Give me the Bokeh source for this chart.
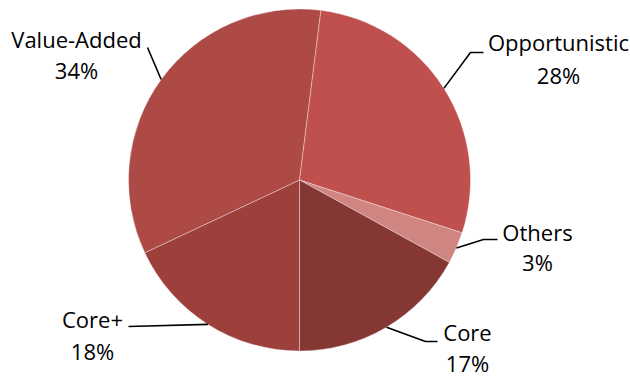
from math import radians, sin, cos

from bokeh.core.properties import value
from bokeh.embed import file_html
from bokeh.models import ColumnDataSource, Range1d
from bokeh.plotting import figure
from bokeh.resources import INLINE

# Share of capital by strategy, drawn clockwise starting at 6 o'clock
strategies = ["Core+", "Value-Added", "Opportunistic", "Others", "Core"]
shares = [18, 34, 28, 3, 17]
colors = ["#9D403C", "#AE4A46", "#C0504D", "#D08582", "#853734"]

W, H = 630, 377
CX, CY, R = 299, 197.5, 171          # pie centre / radius (data units, y up)
START = 180.0                         # first slice begins at the bottom

# label layout: (text centre x, name y, percent y)
label_layout = {
    "Core+":         (92, 59, 27),
    "Value-Added":   (76, 339, 308),
    "Opportunistic": (558, 336, 303),
    "Others":        (537, 146, 116),
    "Core":          (467, 46, 15),
}
# leader: optional elbow point, then the point next to the label
leader_elbow = {
    "Core+": None,
    "Value-Added": None,
    "Opportunistic": (470, 325),
    "Others": (483, 138),
    "Core": (425, 36),
}
leader_end = {
    "Core+": (128, 51),
    "Value-Added": (147, 330),
    "Opportunistic": (483, 325),
    "Others": (497, 138),
    "Core": (437, 36),
}

total = float(sum(shares))
starts, ends, mids = [], [], []
acc = START
for s in shares:
    span = 360.0 * s / total
    a0, a1 = acc, acc + span
    # clockwise-from-top -> counter-clockwise from +x
    starts.append(radians(90 - a1))
    ends.append(radians(90 - a0))
    mids.append((a0 + a1) / 2)
    acc = a1

src = ColumnDataSource(dict(start=starts, end=ends, color=colors, name=strategies))

p = figure(width=W, height=H, x_range=Range1d(0, W), y_range=Range1d(0, H),
           output_backend="svg", toolbar_location=None, min_border=0)
p.axis.visible = False
p.grid.visible = False
p.outline_line_color = None
p.background_fill_color = "white"

p.wedge(x=CX, y=CY, radius=R, start_angle="start", end_angle="end",
        fill_color="color", line_color="white", line_alpha=0.35, line_width=1,
        source=src)

font = value("Open Sans")
for name, share, mid in zip(strategies, shares, mids):
    tx, ny, py = label_layout[name]
    sx = CX + R * sin(radians(mid))
    sy = CY + R * cos(radians(mid))
    xs, ys = [sx], [sy]
    if leader_elbow[name] is not None:
        xs.append(leader_elbow[name][0])
        ys.append(leader_elbow[name][1])
    xs.append(leader_end[name][0])
    ys.append(leader_end[name][1])
    p.line(xs, ys, line_color="black", line_width=1.6)
    p.text(x=[tx], y=[ny], text=[name], text_font=font, text_font_size="22px",
           text_align="center", text_baseline="middle", text_color="black")
    p.text(x=[tx], y=[py], text=[f"{share}%"], text_font=font, text_font_size="22px",
           text_align="center", text_baseline="middle", text_color="black")

open("out.html", "w").write(file_html(p, INLINE))
